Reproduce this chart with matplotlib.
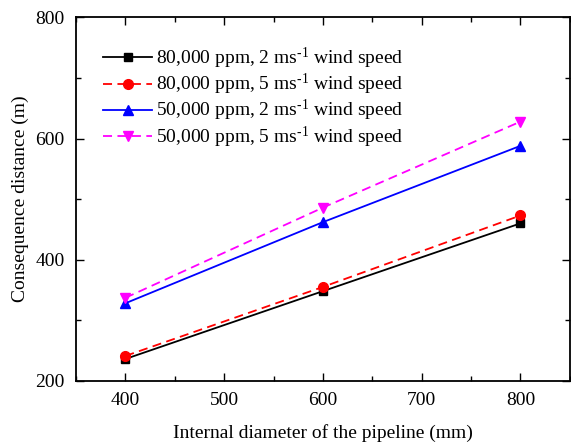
import matplotlib
matplotlib.use("Agg")
import matplotlib.pyplot as plt
from matplotlib.ticker import MultipleLocator

plt.rcParams['font.family'] = ['Liberation Serif', 'DejaVu Serif']
plt.rcParams['mathtext.fontset'] = 'custom'
plt.rcParams['mathtext.rm'] = 'Liberation Serif'
plt.rcParams['mathtext.it'] = 'Liberation Serif:italic'

diameter = [400, 600, 800]
c80_w2 = [236, 348, 460]
c80_w5 = [241, 355, 473]
c50_w2 = [328, 462, 588]
c50_w5 = [337, 486, 628]

labels = [
    "80,000 ppm, 2 ms$^{\\text{-1}}$ wind speed",
    "80,000 ppm, 5 ms$^{\\text{-1}}$ wind speed",
    "50,000 ppm, 2 ms$^{\\text{-1}}$ wind speed",
    "50,000 ppm, 5 ms$^{\\text{-1}}$ wind speed",
]

fig = plt.figure(figsize=(5.71, 4.48), dpi=100)
ax = fig.add_axes([0.133, 0.15, 0.865, 0.811])

ax.plot(diameter, c80_w2, color='black', marker='s', ms=6, lw=1.3, label=labels[0])
ax.plot(diameter, c80_w5, color='red', marker='o', ms=7, lw=1.3, dashes=(5, 3), label=labels[1])
ax.plot(diameter, c50_w2, color='blue', marker='^', ms=7, lw=1.3, label=labels[2])
ax.plot(diameter, c50_w5, color='magenta', marker='v', ms=7, lw=1.3, dashes=(5, 3), label=labels[3])

ax.set_xlim(350, 850)
ax.set_ylim(200, 800)
ax.xaxis.set_major_locator(MultipleLocator(100))
ax.xaxis.set_minor_locator(MultipleLocator(50))
ax.yaxis.set_major_locator(MultipleLocator(200))
ax.yaxis.set_minor_locator(MultipleLocator(100))
ax.tick_params(which='both', direction='in', top=True, right=True, labelsize=14, width=1)
ax.tick_params(which='major', length=6, pad=8)
ax.tick_params(which='minor', length=3.5)
for s in ax.spines.values():
    s.set_linewidth(1.3)

ax.set_xlabel("Internal diameter of the pipeline (mm)", fontsize=14, labelpad=11)
ax.set_ylabel("Consequence distance (m)", fontsize=14, labelpad=5)

ax.legend(loc='upper left', frameon=False, fontsize=14, handlelength=2.5,
          handletextpad=0.2, labelspacing=0.05, bbox_to_anchor=(0.02, 0.97))

fig.savefig("out.png", dpi=100)
